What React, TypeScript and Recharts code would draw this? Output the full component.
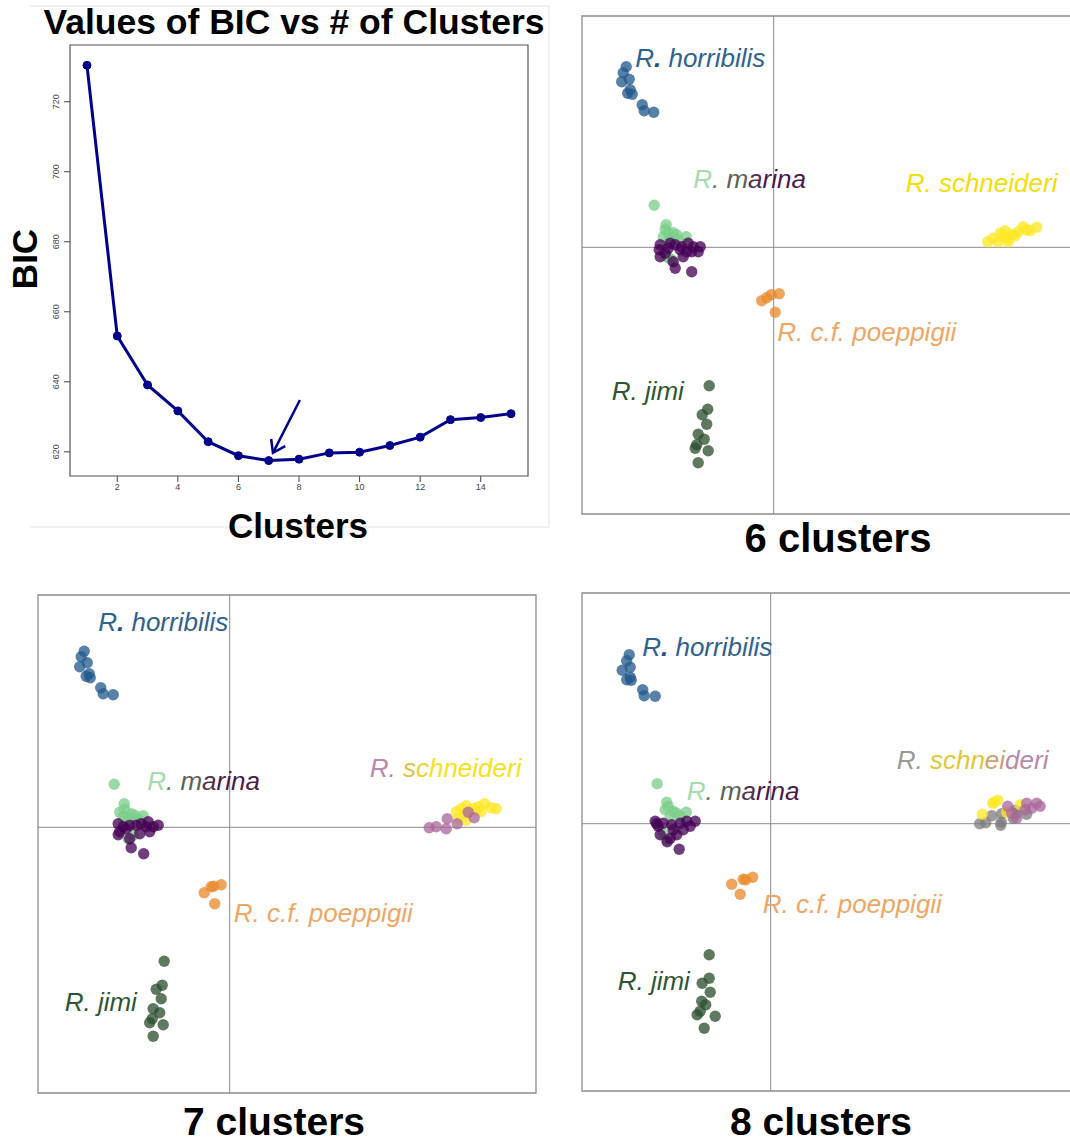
import React from "react";
import {
  LineChart,
  Line,
  XAxis,
  YAxis,
  ReferenceArea,
  ReferenceLine,
  ReferenceDot,
  ScatterChart,
  Scatter,
} from "recharts";

type Pt = [number, number];
type Part = [string, string, number?];

// ---- BIC curve ----
const clusterCounts = [1, 2, 3, 4, 5, 6, 7, 8, 9, 10, 11, 12, 13, 14, 15];
const bicValues = [730.4, 653.1, 639.1, 631.7, 622.9, 618.9, 617.5, 617.9, 619.7, 619.9, 621.8, 624.2, 629.2, 629.8, 630.9];
const bicXTicks = [2, 4, 6, 8, 10, 12, 14];
const bicYTicks = [620, 640, 660, 680, 700, 720];
const bicXDomain: [number, number] = [0.44, 15.56];
const bicYDomain: [number, number] = [613.1, 736.2];
const arrowSegment = [
  { x: 8.03, y: 634.8 },
  { x: 7.14, y: 619.7 },
];

// ---- colours ----
const COL = {
  horribilis: "#23598b",
  marinaGreen: "#7ccf8a",
  marinaPurple: "#440154",
  yellow: "#fde725",
  orange: "#e98a2b",
  jimi: "#2b4f2e",
  pink: "#a9689a",
  gray: "#7d7d7d",
};
const TXT = {
  horribilis: "#2f6290",
  jimi: "#2f5634",
  poeppigii: "#eea766",
  schneideri: "#f4de08",
};

// ---- 6 clusters ----
const k6Horribilis: Pt[] = [[-2.95, 3.61], [-3.01, 3.49], [-2.89, 3.36], [-3.04, 3.31], [-2.87, 3.15], [-2.92, 3.08], [-2.83, 3.06], [-2.63, 2.85], [-2.59, 2.73], [-2.4, 2.7]];
const k6MarinaGreen: Pt[] = [[-2.39, 0.84], [-2.15, 0.45], [-2.17, 0.36], [-2.11, 0.28], [-2.01, 0.29], [-1.94, 0.25], [-1.75, 0.21], [-2.21, 0.21], [-2.07, 0.18], [-1.91, 0.15], [-2.04, -0.25], [-2.14, -0.19], [-2.09, -0.22]];
const k6MarinaPurple: Pt[] = [[-2.27, 0.05], [-2.11, -0.02], [-1.97, 0.05], [-1.84, 0.01], [-1.71, 0.08], [-1.61, 0.01], [-1.47, 0.01], [-1.64, -0.09], [-2.27, -0.19], [-2.17, -0.12], [-1.81, -0.19], [-2.01, -0.29], [-1.97, -0.42], [-1.64, -0.49], [-1.87, -0.05], [-1.51, -0.09], [-2.07, 0.08], [-1.74, -0.09], [-2.29, -0.05]];
const k6Schneideri: Pt[] = [[4.28, 0.11], [4.39, 0.18], [4.53, 0.28], [4.63, 0.33], [4.59, 0.21], [4.69, 0.18], [4.76, 0.25], [4.89, 0.31], [4.99, 0.41], [5.06, 0.35], [5.26, 0.4], [4.83, 0.23], [4.69, 0.11], [4.49, 0.11], [5.13, 0.33]];
const k6Poeppigii: Pt[] = [[-0.24, -1.07], [-0.14, -1.01], [-0.05, -0.95], [0.11, -0.93], [0.03, -1.3]];
const k6Jimi: Pt[] = [[-1.29, -2.77], [-1.32, -3.24], [-1.43, -3.35], [-1.34, -3.54], [-1.51, -3.74], [-1.39, -3.84], [-1.54, -3.95], [-1.57, -4.02], [-1.31, -4.07], [-1.51, -4.31]];

// ---- 7 clusters ----
const k7Horribilis: Pt[] = [[-2.91, 3.52], [-2.97, 3.41], [-2.85, 3.29], [-3.0, 3.21], [-2.81, 3.07], [-2.87, 3.02], [-2.79, 2.99], [-2.58, 2.79], [-2.53, 2.67], [-2.33, 2.65]];
const k7MarinaGreen: Pt[] = [[-2.31, 0.86], [-2.11, 0.47], [-2.1, 0.36], [-1.97, 0.27], [-1.9, 0.24], [-1.73, 0.23], [-2.03, 0.17], [-2.13, 0.21], [-1.83, 0.17], [-2.03, -0.23], [-1.93, -0.16], [-2.2, 0.3]];
const k7MarinaPurple: Pt[] = [[-2.23, 0.07], [-2.13, 0.01], [-2.0, 0.04], [-1.87, 0.04], [-1.77, 0.07], [-1.63, 0.11], [-1.53, 0.01], [-1.43, 0.04], [-1.6, -0.09], [-2.2, -0.09], [-1.8, -0.13], [-2.0, -0.23], [-1.97, -0.41], [-1.72, -0.53], [-1.67, 0.01], [-2.07, -0.03], [-2.23, -0.15]];
const k7SchneideriYellow: Pt[] = [[4.53, 0.31], [4.63, 0.37], [4.73, 0.43], [4.87, 0.37], [4.97, 0.41], [5.1, 0.47], [5.23, 0.39], [5.33, 0.37], [5.03, 0.31], [4.7, 0.27], [4.57, 0.17], [4.93, 0.34], [4.73, 0.14]];
const k7SchneideriPink: Pt[] = [[3.99, -0.01], [4.13, 0.01], [4.33, -0.03], [4.35, 0.17], [4.55, 0.07], [4.77, 0.3], [4.89, 0.19]];
const k7Poeppigii: Pt[] = [[-0.51, -1.31], [-0.37, -1.19], [-0.32, -1.18], [-0.17, -1.15], [-0.3, -1.53]];
const k7Jimi: Pt[] = [[-1.31, -2.68], [-1.35, -3.16], [-1.47, -3.24], [-1.37, -3.43], [-1.53, -3.63], [-1.4, -3.71], [-1.55, -3.83], [-1.6, -3.91], [-1.33, -3.95], [-1.53, -4.18]];

// ---- 8 clusters ----
const k8Horribilis: Pt[] = [[-2.83, 3.38], [-2.88, 3.26], [-2.81, 3.13], [-2.97, 3.07], [-2.81, 2.93], [-2.88, 2.88], [-2.79, 2.87], [-2.56, 2.68], [-2.53, 2.56], [-2.31, 2.55]];
const k8MarinaGreen: Pt[] = [[-2.27, 0.8], [-2.08, 0.43], [-2.05, 0.35], [-2.11, 0.28], [-1.95, 0.25], [-1.88, 0.21], [-1.69, 0.23], [-2.01, 0.15], [-1.81, 0.15], [-2.15, -0.19], [-2.08, -0.32]];
const k8MarinaPurple: Pt[] = [[-2.31, 0.05], [-2.25, -0.05], [-2.15, 0.01], [-1.98, -0.02], [-1.81, 0.01], [-1.68, 0.05], [-1.51, 0.05], [-1.61, -0.05], [-1.75, -0.12], [-1.95, -0.12], [-2.21, -0.22], [-2.01, -0.29], [-2.07, -0.36], [-1.83, -0.51], [-1.88, -0.22], [-2.28, 0.0]];
const k8SchneideriYellow: Pt[] = [[4.47, 0.43], [4.54, 0.47], [4.23, 0.19], [4.72, 0.23], [4.99, 0.38], [4.44, 0.41]];
const k8SchneideriGray: Pt[] = [[4.18, 0.0], [4.3, 0.02], [4.42, 0.16], [4.62, 0.2], [4.61, 0.03], [4.6, -0.03], [4.89, 0.27], [4.92, 0.21], [5.12, 0.19], [4.85, 0.11]];
const k8SchneideriPink: Pt[] = [[4.74, 0.35], [4.82, 0.21], [4.92, 0.11], [5.12, 0.41], [5.22, 0.31], [5.32, 0.41], [5.39, 0.35], [5.09, 0.28]];
const k8Poeppigii: Pt[] = [[-0.78, -1.21], [-0.55, -1.11], [-0.5, -1.12], [-0.36, -1.07], [-0.61, -1.41]];
const k8Jimi: Pt[] = [[-1.23, -2.62], [-1.23, -3.09], [-1.37, -3.19], [-1.21, -3.37], [-1.38, -3.55], [-1.3, -3.62], [-1.41, -3.75], [-1.47, -3.82], [-1.11, -3.85], [-1.33, -4.09]];

// ---- species labels (multi-colour where clusters are split) ----
const horribilisParts: Part[] = [["R", TXT.horribilis], [".", "#1f4f7c", 700], [" horribilis", TXT.horribilis]];
const marinaParts: Part[] = [["R", "#a5dbad"], [".", "#5f7d63"], [" m", "#58615a"], ["a", "#4f3552"], ["rina", "#4a1a4e"]];
const jimiParts: Part[] = [["R. jimi", TXT.jimi]];
const poeppigiiParts: Part[] = [["R. c.f. poeppigii", TXT.poeppigii]];
const k6SchneideriParts: Part[] = [["R. schneideri", TXT.schneideri]];
const k7SchneideriParts: Part[] = [["R. ", "#b98aac"], ["s", "#dcc155"], ["c", "#ebd23a"], ["hneideri", "#f6e11c"]];
const k8SchneideriParts: Part[] = [["R. ", "#9a9a96"], ["schn", "#e0c83a"], ["ei", "#c9a270"], ["deri", "#b68aa8"]];

const k6Labels = [
  { x: -2.77, y: 3.61, parts: horribilisParts },
  { x: -1.61, y: 1.18, parts: marinaParts },
  { x: 2.64, y: 1.11, parts: k6SchneideriParts },
  { x: 0.07, y: -1.87, parts: poeppigiiParts },
  { x: -3.24, y: -3.05, parts: jimiParts },
];
const k7Labels = [
  { x: -2.63, y: 3.93, parts: horribilisParts },
  { x: -1.65, y: 0.74, parts: marinaParts },
  { x: 2.8, y: 1.01, parts: k7SchneideriParts },
  { x: 0.08, y: -1.89, parts: poeppigiiParts },
  { x: -3.3, y: -3.67, parts: jimiParts },
];
const k8Labels = [
  { x: -2.57, y: 3.35, parts: horribilisParts },
  { x: -1.68, y: 0.48, parts: marinaParts },
  { x: 2.52, y: 1.1, parts: k8SchneideriParts },
  { x: -0.16, y: -1.79, parts: poeppigiiParts },
  { x: -3.06, y: -3.32, parts: jimiParts },
];

const panels = [
  {
    title: "6 clusters",
    left: 582,
    top: 16,
    xDomain: [-3.834, 6.126],
    yDomain: [-5.334, 4.626],
    groups: [
      { pts: k6Horribilis, color: COL.horribilis },
      { pts: k6MarinaGreen, color: COL.marinaGreen },
      { pts: k6MarinaPurple, color: COL.marinaPurple },
      { pts: k6Poeppigii, color: COL.orange },
      { pts: k6Jimi, color: COL.jimi },
      { pts: k6Schneideri, color: COL.yellow },
    ],
    labels: k6Labels,
  },
  {
    title: "7 clusters",
    left: 38,
    top: 595,
    xDomain: [-3.834, 6.126],
    yDomain: [-5.314, 4.646],
    groups: [
      { pts: k7Horribilis, color: COL.horribilis },
      { pts: k7MarinaGreen, color: COL.marinaGreen },
      { pts: k7MarinaPurple, color: COL.marinaPurple },
      { pts: k7Poeppigii, color: COL.orange },
      { pts: k7Jimi, color: COL.jimi },
      { pts: k7SchneideriYellow, color: COL.yellow },
      { pts: k7SchneideriPink, color: COL.pink },
    ],
    labels: k7Labels,
  },
  {
    title: "8 clusters",
    left: 582,
    top: 593,
    xDomain: [-3.774, 6.186],
    yDomain: [-5.346, 4.614],
    groups: [
      { pts: k8Horribilis, color: COL.horribilis },
      { pts: k8MarinaGreen, color: COL.marinaGreen },
      { pts: k8MarinaPurple, color: COL.marinaPurple },
      { pts: k8Poeppigii, color: COL.orange },
      { pts: k8Jimi, color: COL.jimi },
      { pts: k8SchneideriGray, color: COL.gray },
      { pts: k8SchneideriYellow, color: COL.yellow },
      { pts: k8SchneideriPink, color: COL.pink },
    ],
    labels: k8Labels,
  },
];

const FONT = '"Liberation Sans", Arial, Helvetica, sans-serif';

const RotatedTick = (props: any) => {
  const { x, y, payload } = props;
  return (
    <text
      x={x}
      y={y}
      transform={`rotate(-90, ${x}, ${y})`}
      textAnchor="middle"
      fontSize={9}
      fill="#444"
      fontFamily={FONT}
    >
      {payload.value}
    </text>
  );
};

const ArrowShape = (p: any) => {
  const { x1, y1, x2, y2 } = p;
  const a = Math.atan2(y2 - y1, x2 - x1);
  const len = 14;
  const h1x = x2 - len * Math.cos(a - 0.6);
  const h1y = y2 - len * Math.sin(a - 0.6);
  const h2x = x2 - len * Math.cos(a + 0.6);
  const h2y = y2 - len * Math.sin(a + 0.6);
  return (
    <g>
      <line x1={x1} y1={y1} x2={x2} y2={y2} stroke="#00008b" strokeWidth={2.5} />
      <polyline
        points={`${h1x},${h1y} ${x2},${y2} ${h2x},${h2y}`}
        fill="none"
        stroke="#00008b"
        strokeWidth={2.5}
      />
    </g>
  );
};

function BicChart() {
  const data = clusterCounts.map((k, i) => ({ k, bic: bicValues[i] }));
  return (
    <div style={{ position: "absolute", left: 0, top: 0 }}>
      <LineChart width={560} height={560} data={data} margin={{ top: 45, right: 32, bottom: 54, left: 30 }}>
        <XAxis
          dataKey="k"
          type="number"
          domain={bicXDomain}
          ticks={bicXTicks}
          allowDataOverflow
          axisLine={false}
          tickSize={6}
          tickLine={{ stroke: "#444" }}
          tick={{ fontSize: 9, fill: "#444", fontFamily: FONT }}
          height={30}
        />
        <YAxis
          type="number"
          domain={bicYDomain}
          ticks={bicYTicks}
          allowDataOverflow
          axisLine={false}
          tickSize={6}
          tickMargin={5}
          tickLine={{ stroke: "#444" }}
          tick={<RotatedTick />}
          width={40}
        />
        <ReferenceArea
          x1={bicXDomain[0]}
          x2={bicXDomain[1]}
          y1={bicYDomain[0]}
          y2={bicYDomain[1]}
          fill="none"
          stroke="#555"
          strokeWidth={1.2}
        />
        <Line
          dataKey="bic"
          type="linear"
          stroke="#00008b"
          strokeWidth={3}
          dot={{ r: 4, fill: "#00008b", stroke: "#00008b", strokeWidth: 1 }}
          isAnimationActive={false}
        />
        <ReferenceLine segment={arrowSegment} shape={ArrowShape} />
      </LineChart>
    </div>
  );
}

function ClusterPanel({ panel }: { panel: any }) {
  const { left, top, xDomain, yDomain, groups, labels } = panel;
  return (
    <div style={{ position: "absolute", left: left - 1, top: top - 1 }}>
      <ScatterChart width={500} height={500} margin={{ top: 1, right: 1, bottom: 1, left: 1 }}>
        <XAxis type="number" dataKey="x" domain={xDomain} hide allowDataOverflow />
        <YAxis type="number" dataKey="y" domain={yDomain} hide allowDataOverflow />
        <ReferenceArea
          x1={xDomain[0]}
          x2={xDomain[1]}
          y1={yDomain[0]}
          y2={yDomain[1]}
          fill="none"
          stroke="#8c8c8c"
          strokeWidth={1.3}
        />
        <ReferenceLine x={0} stroke="#8a8a8a" strokeWidth={1} />
        <ReferenceLine y={0} stroke="#8a8a8a" strokeWidth={1} />
        {groups.map((g: any, i: number) => (
          <Scatter
            key={i}
            data={g.pts.map(([x, y]: Pt) => ({ x, y }))}
            fill={g.color}
            isAnimationActive={false}
            shape={(p: any) => (
              <circle cx={p.cx} cy={p.cy} r={5.7} fill={g.color} fillOpacity={0.76} />
            )}
          />
        ))}
        {labels.map((l: any, i: number) => (
          <ReferenceDot
            key={"l" + i}
            x={l.x}
            y={l.y}
            r={0}
            shape={(p: any) => (
              <text
                x={p.cx}
                y={p.cy}
                fontSize={26}
                fontStyle="italic"
                fontFamily={FONT}
                style={{ whiteSpace: "pre" }}
              >
                {l.parts.map((part: Part, j: number) => (
                  <tspan key={j} fill={part[1]} fontWeight={part[2] || 400}>
                    {part[0]}
                  </tspan>
                ))}
              </text>
            )}
          />
        ))}
      </ScatterChart>
    </div>
  );
}

export default function App() {
  return (
    <div
      style={{
        position: "absolute",
        left: 0,
        top: 0,
        width: 1070,
        height: 1144,
        overflow: "hidden",
        background: "#fff",
        fontFamily: FONT,
      }}
    >
      <svg width={1070} height={1144} style={{ position: "absolute", left: 0, top: 0 }}>
        <line x1={30} y1={6} x2={549} y2={6} stroke="#e2e2e2" />
        <line x1={549} y1={6} x2={549} y2={527} stroke="#e2e2e2" />
        <line x1={30} y1={527} x2={549} y2={527} stroke="#e2e2e2" />
      </svg>
      <BicChart />
      {panels.map((p) => (
        <ClusterPanel key={p.title} panel={p} />
      ))}
      <svg
        width={1070}
        height={1144}
        style={{ position: "absolute", left: 0, top: 0, pointerEvents: "none" }}
      >
        <g fontFamily={FONT} fontWeight={700} fill="#000">
          <text x={294} y={34} fontSize={35.5} textAnchor="middle">
            Values of BIC vs # of Clusters
          </text>
          <text x={37} y={259} fontSize={35} textAnchor="middle" transform="rotate(-90, 37, 259)">
            BIC
          </text>
          <text x={298} y={538} fontSize={35} textAnchor="middle">
            Clusters
          </text>
          <text x={838} y={552} fontSize={40} textAnchor="middle">
            6 clusters
          </text>
          <text x={274} y={1135} fontSize={39} textAnchor="middle">
            7 clusters
          </text>
          <text x={821} y={1135} fontSize={39} textAnchor="middle">
            8 clusters
          </text>
        </g>
      </svg>
    </div>
  );
}
